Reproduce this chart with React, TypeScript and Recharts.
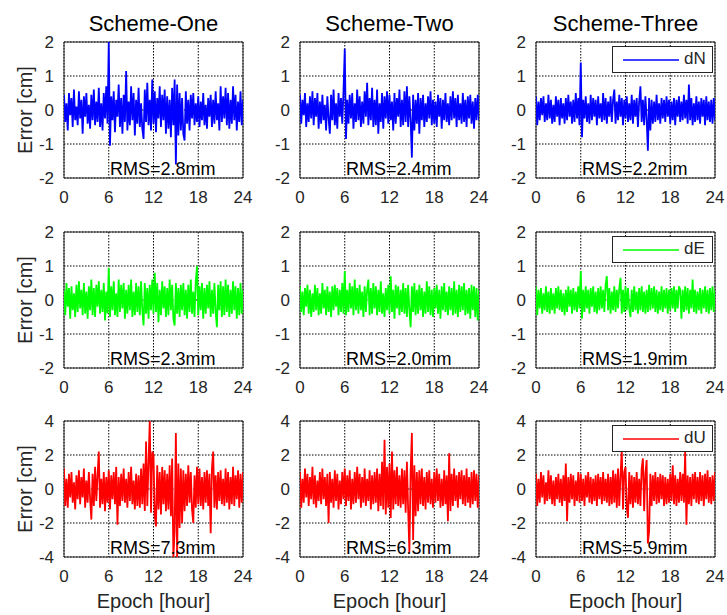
import {
  LineChart,
  Line,
  XAxis,
  YAxis,
  CartesianGrid,
  ReferenceArea,
  ReferenceDot,
  Legend,
} from "recharts";

const FONT = "'Liberation Sans', Arial, Helvetica, sans-serif";
const SAMPLES_PER_HOUR = 6; // 10-minute epochs

const hourTicks = [0, 6, 12, 18, 24];
const smallTicks = [-2, -1, 0, 1, 2];
const largeTicks = [-4, -2, 0, 2, 4];
const schemes = ["Scheme-One", "Scheme-Two", "Scheme-Three"];
const components = ["dN", "dE", "dU"];
const colors = ["#0000ff", "#00ff00", "#ff0000"];
const rmsN = ["2.8", "2.4", "2.2"];
const rmsE = ["2.3", "2.0", "1.9"];
const rmsU = ["7.3", "6.3", "5.9"];

// north error, cm (one row = 2 hours)
const dN1 = [
  0.45, -0.35, 0.2, -0.6, 0.5, -0.15, 0.35, -0.5, 0.6, -0.3, 0.1, -0.45,
  0.55, -0.25, 0.3, -0.7, 0.4, -0.2, 0.5, -0.4, 0.15, -0.55, 0.45, -0.3,
  0.6, -0.45, 0.25, -0.35, 0.65, -0.5, 0.2, -0.6, 0.5, -0.25, 0.7, -0.4,
  2.0, -1.05, 0.4, -0.3, 0.55, -0.65, 0.3, -0.2, 0.75, -0.5, 0.35, -0.7,
  0.45, -0.35, 1.15, -0.6, 0.25, -0.45, 0.7, -0.3, 0.5, -0.75, 0.3, -0.4,
  0.65, -0.5, 0.2, -0.55, -0.85, 0.6, -0.35, 0.8, -0.45, 0.3, -0.6, 0.9,
  -0.4, 0.55, -0.65, 0.35, -0.25, 0.7, -0.5, 0.45, -0.3, 0.6, -0.7, 0.4,
  -0.55, 0.3, -0.8, 0.65, -0.45, 0.9, -1.6, 0.75, -0.75, 0.5, -0.6, 0.35,
  -0.7, -0.9, 0.55, -0.4, 0.3, -0.6, 0.45, -0.25, 0.5, -0.45, 0.2, -0.35,
  0.4, -0.5, 0.25, -0.3, 0.5, -0.45, 0.15, -0.55, 0.35, -0.2, 0.45, -0.5,
  0.3, -0.4, 0.55, -0.3, 0.2, -0.6, 0.7, -0.35, 0.4, -0.25, 0.65, -0.45,
  0.5, -0.55, 0.3, -0.4, 0.7, -0.3, 0.45, -0.6, 0.25, -0.35, 0.55, -0.45,
  0.3,
];
const dN2 = [
  0.45, -0.4, 0.3, -0.15, 0.5, -0.5, 0.2, -0.35, 0.4, -0.25, 0.55, -0.45,
  0.35, -0.2, 0.5, -0.55, 0.25, -0.4, 0.45, -0.3, 0.15, -0.6, 0.4, -0.25,
  -0.7, 0.45, -0.3, 0.6, -0.45, 0.2, -0.55, 0.5, -0.2, 0.35, -0.4, 0.55,
  1.8, -0.85, 0.3, -0.4, 0.45, -0.25, 0.5, -0.55, 0.2, -0.35, 0.6, -0.3,
  0.4, -0.5, 0.25, -0.4, 0.55, -0.2, 0.8, -0.45, 0.35, -0.3, 0.65, -0.5,
  0.3, -0.45, 0.6, -0.7, 0.2, -0.35, 0.5, -0.55, 0.4, -0.25, 0.55, -0.4,
  0.45, -0.3, 0.25, -0.6, 0.5, -0.4, 0.35, -0.2, 0.6, -0.5, 0.3, -0.45,
  0.55, -0.35, 0.7, -0.5, 0.4, -0.3, -1.4, 0.45, -0.6, 0.3, -0.4, 0.5,
  -0.7, 0.35, -0.3, 0.45, -0.5, 0.2, -0.35, 0.4, -0.25, 0.55, -0.45, 0.3,
  -0.4, 0.25, -0.5, 0.45, -0.2, 0.35, -0.55, 0.3, -0.3, 0.5, -0.35, 0.2,
  -0.45, 0.4, -0.3, 0.55, -0.25, 0.35, -0.5, 0.45, -0.3, 0.2, -0.4, 0.5,
  -0.35, 0.3, -0.5, 0.4, -0.25, 0.45, -0.4, 0.25, -0.55, 0.35, -0.3, 0.45,
  -0.3,
];
const dN3 = [
  0.4, -0.45, 0.25, -0.3, 0.35, -0.15, 0.4, -0.35, 0.2, -0.3, 0.45, -0.25,
  0.3, -0.4, 0.15, -0.35, 0.4, -0.2, 0.3, -0.45, 0.35, -0.25, 0.2, -0.4,
  0.35, -0.3, 0.45, -0.2, 0.25, -0.4, 0.3, -0.35, 0.5, -0.25, 0.35, -0.45,
  1.4, -0.8, 0.3, -0.25, 0.4, -0.35, 0.2, -0.4, 0.45, -0.3, 0.35, -0.2,
  0.3, -0.45, 0.4, -0.25, 0.2, -0.35, 0.5, -0.3, 0.35, -0.4, 0.25, -0.2,
  0.4, -0.35, 0.3, 0.6, -0.4, 0.25, -0.3, 0.45, -0.2, 0.35, -0.45, 0.3,
  -0.25, 0.4, -0.35, 0.2, -0.3, 0.45, -0.4, 0.3, -0.2, 0.35, -0.5, 0.25,
  0.7, -0.35, 0.3, -0.45, 0.4, -0.25, -1.2, 0.35, -0.6, 0.3, -0.4, 0.25,
  -0.35, 0.45, -0.3, 0.2, -0.4, 0.35, -0.25, 0.3, -0.35, 0.4, -0.2, 0.3,
  -0.4, 0.25, -0.3, 0.35, -0.45, 0.3, -0.2, 0.4, -0.35, 0.25, -0.3, 0.45,
  -0.25, 0.3, -0.4, 0.75, -0.3, 0.35, -0.45, 0.2, -0.35, 0.4, -0.3, 0.25,
  -0.4, 0.35, -0.2, 0.3, -0.45, 0.4, -0.3, 0.25, -0.35, 0.3, -0.4, 0.35,
  -0.3,
];

// east error, cm
const dE1 = [
  0.3, -0.45, 0.5, -0.2, 0.35, -0.55, 0.4, -0.3, 0.2, -0.5, 0.45, -0.35,
  0.55, -0.25, 0.3, -0.45, 0.5, -0.4, 0.25, -0.55, 0.4, -0.3, 0.6, -0.45,
  0.35, -0.5, 0.45, -0.2, 0.55, -0.4, 0.3, -0.35, 0.5, -0.6, 0.25, -0.4,
  0.95, -0.5, 0.4, -0.3, 0.55, -0.45, 0.2, -0.5, 0.6, -0.35, 0.45, -0.25,
  0.5, -0.55, 0.3, -0.4, 0.45, -0.3, 0.6, -0.5, 0.25, -0.45, 0.5, -0.35,
  0.4, -0.45, 0.55, -0.3, -0.75, 0.5, -0.4, 0.35, -0.55, 0.45, -0.3, 0.6,
  -0.4, 0.8, -0.35, 0.5, -0.65, 0.3, -0.45, 0.55, -0.25, 0.4, -0.5, 0.35,
  -0.45, 0.6, -0.3, 0.45, -0.55, -0.75, 0.5, -0.4, 0.35, -0.5, 0.45, -0.3,
  0.5, -0.45, 0.3, -0.55, 0.45, -0.35, 0.6, -0.4, 0.25, -0.5, 0.55, 1.0,
  -0.45, 0.4, -0.3, 0.5, -0.55, 0.35, -0.4, 0.45, -0.25, 0.55, -0.5, 0.3,
  -0.4, 0.5, -0.35, -0.8, 0.45, -0.3, 0.55, -0.5, 0.4, -0.45, 0.6, -0.35,
  0.45, -0.5, 0.3, -0.4, 0.55, -0.3, 0.4, -0.55, 0.35, -0.45, 0.5, -0.4,
  0.3,
];
const dE2 = [
  0.4, -0.35, 0.25, -0.45, 0.35, -0.2, 0.45, -0.4, 0.3, -0.5, 0.2, -0.35,
  0.45, -0.3, 0.35, -0.45, 0.2, -0.4, 0.5, -0.25, 0.3, -0.45, 0.4, -0.35,
  0.25, -0.5, 0.4, -0.3, 0.45, -0.2, 0.35, -0.45, 0.3, -0.35, 0.5, -0.4,
  0.85, -0.45, 0.3, -0.35, 0.5, -0.25, 0.4, -0.45, 0.6, -0.3, 0.35, -0.4,
  0.45, -0.3, 0.25, -0.5, 0.4, -0.35, 0.3, 0.6, -0.45, 0.35, -0.4, 0.5,
  -0.25, 0.4, -0.45, 0.3, -0.35, 0.55, -0.4, 0.2, -0.5, 0.35, -0.3, 0.45,
  -0.4, 0.7, -0.35, 0.3, -0.55, 0.45, -0.25, 0.4, -0.45, 0.3, -0.35, 0.5,
  -0.4, 0.35, -0.5, 0.45, -0.3, -0.8, 0.4, -0.35, 0.5, -0.45, 0.3, -0.4,
  0.45, -0.3, 0.35, -0.5, 0.25, -0.4, 0.55, -0.35, 0.4, -0.45, 0.3, -0.5,
  0.35, -0.25, 0.45, -0.4, 0.3, -0.55, 0.4, -0.3, 0.5, -0.35, 0.25, -0.45,
  0.4, -0.3, 0.35, -0.45, 0.55, -0.4, 0.3, -0.5, 0.45, -0.35, 0.4, -0.3,
  0.5, -0.45, 0.3, -0.4, 0.35, -0.55, 0.45, -0.3, 0.4, -0.5, 0.35, -0.6,
  0.3,
];
const dE3 = [
  0.4, -0.45, 0.3, -0.25, 0.35, -0.4, 0.2, -0.3, 0.4, -0.35, 0.25, -0.4,
  0.35, -0.3, 0.2, -0.4, 0.35, -0.25, 0.4, -0.3, 0.3, -0.35, 0.2, -0.45,
  0.3, -0.35, 0.4, -0.2, 0.3, -0.4, 0.35, -0.3, 0.25, -0.35, 0.4, -0.25,
  0.85, -0.55, 0.3, -0.35, 0.4, -0.25, 0.3, -0.4, 0.35, -0.2, 0.4, -0.35,
  0.25, -0.4, 0.35, -0.3, 0.4, -0.25, 0.3, -0.35, 0.45, 0.7, -0.3, 0.35,
  -0.4, 0.25, -0.3, 0.4, -0.35, 0.3, -0.25, 0.35, 0.65, -0.4, 0.3, -0.35,
  0.4, -0.3, 0.35, -0.25, -0.5, 0.3, -0.35, 0.4, -0.3, 0.25, -0.4, 0.35,
  -0.3, 0.4, -0.35, 0.25, -0.4, 0.3, -0.35, 0.45, -0.3, 0.35, -0.25, 0.4,
  -0.35, 0.3, -0.4, 0.25, -0.3, 0.4, -0.35, 0.3, -0.25, 0.35, -0.4, 0.3,
  -0.3, 0.35, -0.25, 0.4, -0.35, 0.3, -0.25, 0.4, 0.3, -0.55, 0.3, -0.35,
  0.4, -0.3, 0.35, -0.4, 0.3, -0.25, 0.6, -0.35, 0.3, -0.4, 0.25, -0.3,
  0.35, -0.4, 0.3, -0.25, 0.4, -0.35, 0.3, -0.4, 0.35, -0.3, 0.4, -0.35,
  0.3,
];

// up error, cm
const dU1 = [
  1.2, -1.0, 0.6, -1.1, 0.9, -0.5, 1.0, -0.8, 0.4, -1.2, 0.8, -0.6,
  1.1, -0.9, 0.7, -0.5, 1.2, -1.1, 0.5, -0.8, 1.0, -0.6, -1.8, 0.9,
  -1.0, 1.3, -0.7, 0.8, 2.2, -1.1, 0.6, -0.9, 1.0, -1.3, 0.7, -0.8,
  1.1, -1.2, 0.8, -0.6, 1.0, -0.9, 1.3, -2.1, 0.7, -1.0, 0.9, -0.7,
  1.2, -0.8, 0.6, -1.1, 1.0, -0.7, 1.3, -0.9, 0.5, -1.2, 0.9, -1.0,
  0.8, -1.1, 1.2, -0.9, 1.5, -1.3, 2.8, -1.0, 1.6, 4.0, -1.4, 2.2,
  2.0, -1.6, -2.2, 1.4, -1.2, 1.0, -1.5, 1.3, -0.9, 1.1, -1.3, 0.9,
  -1.2, 1.4, -1.6, 1.8, -4.0, -2.5, 3.3, -4.0, 1.5, -2.3, 1.2, -2.0,
  1.1, -1.3, 0.9, -1.0, 1.4, -0.8, 1.0, -1.2, -2.0, 0.8, -1.1, 1.3,
  -0.9, 1.2, -1.0, 0.7, -1.2, 1.0, -0.8, 1.1, -1.0, 0.9, -2.6, 1.2,
  2.2, -1.1, 0.8, -1.2, 1.0, -0.7, 1.1, -0.9, 0.6, -1.0, 1.2, -0.8,
  1.0, -1.2, 0.7, -0.9, 1.3, -1.0, 0.8, -0.6, 1.1, -1.1, 0.9, -0.8,
  1.0,
];
const dU2 = [
  1.0, -1.1, 0.6, -0.8, 1.2, -0.5, 0.9, -1.0, 0.7, -0.6, 1.3, -0.9,
  0.8, -1.1, 0.5, -0.7, 1.0, -0.9, 1.2, -0.6, 0.7, -1.0, 0.9, -2.0,
  1.0, -0.8, 0.6, -1.1, 1.1, -0.7, 0.9, -1.2, 0.5, -0.9, 1.0, -0.6,
  1.2, -1.0, 0.8, -0.7, 1.1, -1.2, 0.6, -0.9, 1.0, -0.8, 1.3, -0.6,
  0.9, -1.1, 0.7, -0.8, 1.2, -1.0, 0.6, -0.7, 1.1, -1.2, 0.8, -0.9,
  1.0, -0.8, 1.2, -1.3, 0.9, -1.0, 1.6, -1.2, 2.9, -1.5, 1.3, -1.1,
  1.5, -1.7, 2.2, -1.2, 1.1, -0.9, 1.3, -1.0, 0.8, -1.1, 1.2, -0.9,
  1.1, -1.4, 1.6, -1.2, -3.7, 1.0, 3.3, -3.0, 1.4, -1.6, 1.0, -1.3,
  1.1, -0.9, 1.2, -1.0, 0.7, -1.2, 1.0, -0.8, 1.1, -0.9, 0.6, -1.1,
  1.0, -0.8, 1.2, -0.7, 0.9, -1.1, 0.6, -1.0, 1.1, -0.9, 0.8, -1.9,
  2.1, -1.3, 0.9, -1.0, 1.2, -0.7, 0.8, -1.1, 1.0, -0.6, 1.1, -0.9,
  0.8, -1.0, 1.2, -0.8, 0.7, -1.1, 1.0, -0.9, 1.1, -0.7, 0.9, -1.1,
  0.8,
];
const dU3 = [
  0.9, -1.0, 0.6, -0.8, 1.0, -0.5, 0.8, -0.9, 0.4, -0.7, 1.1, -0.6,
  0.8, -0.9, 0.5, -1.0, 0.7, -0.6, 0.9, -0.8, 0.6, -1.0, 0.8, -0.7,
  1.5, -1.9, 0.7, -0.8, 0.9, -0.6, 0.8, -1.0, 0.5, -0.7, 1.0, -0.8,
  0.9, -0.7, 0.6, -1.0, 0.8, -0.5, 1.0, -0.8, 0.7, -0.9, 0.6, -0.7,
  0.8, -1.0, 0.9, -0.6, 0.7, -0.9, 1.0, -0.7, 0.6, -0.8, 0.9, -1.0,
  0.7, -0.9, 1.1, -0.8, 0.9, -1.1, 1.2, -1.0, 0.8, 2.3, -1.2, 1.0,
  1.3, -1.1, -1.7, 1.0, -0.9, 0.8, -1.1, 0.7, -0.8, 1.0, -0.9, 0.6,
  -1.0, 1.2, 1.8, -1.3, 0.9, 1.7, -3.2, -2.5, 0.9, -1.0, 0.8, -0.7,
  1.0, -0.9, 0.7, -0.8, 0.9, -0.6, 0.8, -1.0, 0.7, -0.9, 0.6, -0.8,
  0.9, -0.7, 1.4, -0.9, 0.8, -1.0, 0.6, -0.8, 1.0, -0.7, 0.9, -0.8,
  2.2, -2.1, 0.8, -0.9, 0.7, -1.0, 0.9, -0.6, 1.0, -0.8, 0.7, -0.9,
  1.0, -0.7, 0.8, -1.0, 0.9, -0.6, 1.1, -0.8, 0.7, -0.9, 0.8, -0.7,
  1.0,
];

const rows = [
  { series: [dN1, dN2, dN3], rms: rmsN, ticks: smallTicks },
  { series: [dE1, dE2, dE3], rms: rmsE, ticks: smallTicks },
  { series: [dU1, dU2, dU3], rms: rmsU, ticks: largeTicks },
];

// page layout of the plot boxes
const PLOT_LEFT = [64, 300, 536];
const PLOT_TOP = [42, 232, 421];
const PLOT_W = 179;
const PLOT_H = 136;
const M_LEFT = 40;
const Y_W = 20;
const M_TOP = 10;
const M_RIGHT = 10;
const X_H = 60;

const tickStyle = { fontSize: 17, fill: "#262626", fontFamily: FONT };

function LegendBox(props: any) {
  const item = props.payload && props.payload[0];
  if (!item) return null;
  return (
    <div
      style={{
        position: "relative",
        boxSizing: "border-box",
        width: 101,
        height: 27,
        border: "1px solid #262626",
        background: "#fff",
        fontFamily: FONT,
        fontSize: 17,
        color: "#262626",
      }}
    >
      <svg width={99} height={25} style={{ position: "absolute", left: 0, top: 0 }}>
        <line x1={10} x2={66} y1={13} y2={13} stroke={item.color} strokeWidth={1.5} />
      </svg>
      <span style={{ position: "absolute", left: 71, top: 2, lineHeight: "20px" }}>
        {item.value}
      </span>
    </div>
  );
}

interface PanelProps {
  values: number[];
  row: number;
  col: number;
  rms: string;
  ticks: number[];
}

function Panel({ values, row, col, rms, ticks }: PanelProps) {
  const data = values.map((v, i) => ({ epoch: i / SAMPLES_PER_HOUR, err: v }));
  const lim = ticks[ticks.length - 1];
  const color = colors[row];

  return (
    <div
      style={{
        position: "absolute",
        left: PLOT_LEFT[col] - M_LEFT - Y_W,
        top: PLOT_TOP[row] - M_TOP,
      }}
    >
      <LineChart
        width={M_LEFT + Y_W + PLOT_W + M_RIGHT}
        height={M_TOP + PLOT_H + X_H}
        data={data}
        margin={{ top: M_TOP, right: M_RIGHT, bottom: 0, left: M_LEFT }}
      >
        <CartesianGrid stroke="#000" strokeDasharray="1.5 1.5" />
        <XAxis
          dataKey="epoch"
          type="number"
          domain={[0, 24]}
          ticks={hourTicks}
          allowDataOverflow
          height={X_H}
          axisLine={false}
          tickLine={false}
          tickSize={0}
          tickMargin={13}
          tick={tickStyle}
          label={
            row === 2
              ? (p: any) => (
                  <text
                    x={p.viewBox.x + p.viewBox.width / 2}
                    y={p.viewBox.y + 51}
                    textAnchor="middle"
                    fontSize={20}
                    fontFamily={FONT}
                    fill="#262626"
                  >
                    Epoch [hour]
                  </text>
                )
              : undefined
          }
        />
        <YAxis
          type="number"
          domain={[-lim, lim]}
          ticks={ticks}
          allowDataOverflow
          width={Y_W}
          axisLine={false}
          tickLine={false}
          tickSize={0}
          tickMargin={10}
          tick={tickStyle}
          label={
            col === 0
              ? (p: any) => {
                  const x = p.viewBox.x + p.viewBox.width - 32;
                  const y = p.viewBox.y + p.viewBox.height / 2;
                  return (
                    <text
                      x={x}
                      y={y}
                      transform={`rotate(-90 ${x} ${y})`}
                      textAnchor="middle"
                      fontSize={20}
                      fontFamily={FONT}
                      fill="#262626"
                    >
                      Error [cm]
                    </text>
                  );
                }
              : undefined
          }
        />
        <Line
          type="linear"
          dataKey="err"
          name={components[row]}
          stroke={color}
          strokeWidth={1.8}
          dot={false}
          isAnimationActive={false}
        />
        <ReferenceArea
          x1={0}
          x2={24}
          y1={-lim}
          y2={lim}
          fill="none"
          stroke="#262626"
          strokeWidth={1}
          ifOverflow="visible"
        />
        <ReferenceDot
          x={0}
          y={-lim}
          r={0}
          shape={(p: any) => (
            <text x={p.cx + 46} y={p.cy - 3} fontSize={18} fontFamily={FONT} fill="#000">
              {`RMS=${rms}mm`}
            </text>
          )}
        />
        {col === 2 && (
          <Legend
            layout="horizontal"
            verticalAlign="middle"
            align="center"
            content={LegendBox}
            wrapperStyle={{
              position: "absolute",
              left: M_LEFT + Y_W + 76,
              top: M_TOP + 4,
              width: 101,
              height: 27,
            }}
          />
        )}
      </LineChart>
    </div>
  );
}

export default function App() {
  return (
    <div
      style={{
        position: "absolute",
        left: 0,
        top: 0,
        width: 727,
        height: 615,
        background: "#fff",
        overflow: "hidden",
      }}
    >
      {schemes.map((title, c) => (
        <div
          key={title}
          style={{
            position: "absolute",
            left: PLOT_LEFT[c] - 10,
            width: PLOT_W + 20,
            top: 13,
            textAlign: "center",
            fontFamily: FONT,
            fontSize: 22,
            lineHeight: "22px",
            color: "#000",
          }}
        >
          {title}
        </div>
      ))}
      {rows.map((r, ri) =>
        r.series.map((values, ci) => (
          <Panel
            key={`${ri}-${ci}`}
            values={values}
            row={ri}
            col={ci}
            rms={r.rms[ci]}
            ticks={r.ticks}
          />
        ))
      )}
    </div>
  );
}
